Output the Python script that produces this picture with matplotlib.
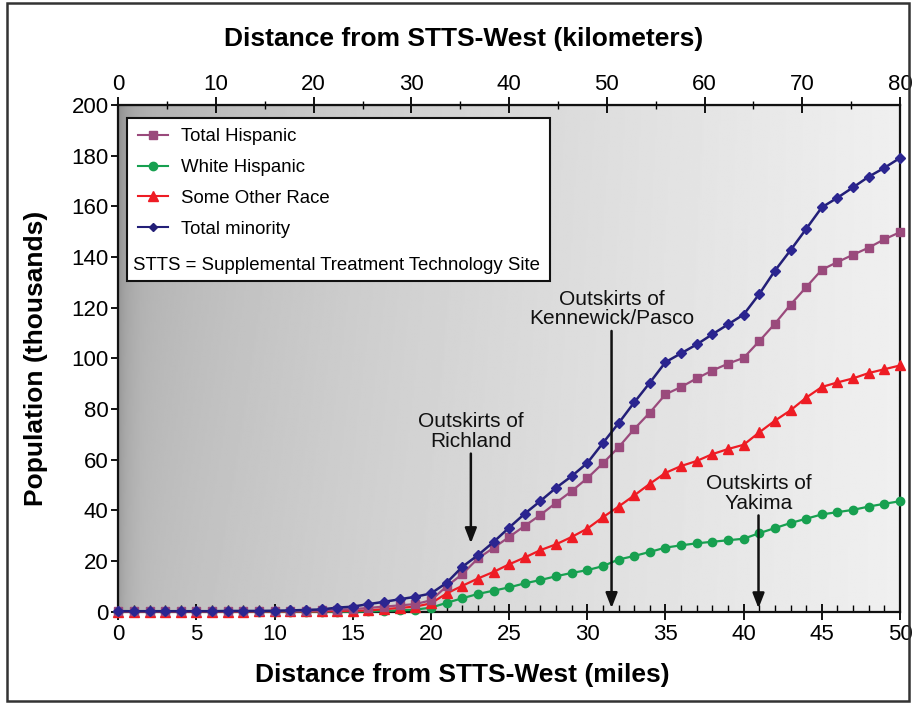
import numpy as np
import matplotlib
matplotlib.use("Agg")
import matplotlib.pyplot as plt
from matplotlib.patches import Rectangle
from matplotlib.lines import Line2D

plt.rcParams['font.family'] = ['Liberation Sans', 'DejaVu Sans']

miles = list(range(0, 51))

total_minority = [0.2, 0.2, 0.2, 0.2, 0.2, 0.2, 0.2, 0.3, 0.3, 0.3, 0.4, 0.5,
                  0.7, 0.9, 1.6, 2.0, 3.0, 3.9, 4.9, 5.9, 7.2, 11.4, 17.7, 22.3,
                  27.5, 33.2, 38.7, 43.7, 48.9, 53.5, 58.7, 66.6, 74.4, 82.6, 90.4,
                  98.5, 102.0, 105.5, 109.5, 113.4, 117.3, 125.4, 134.6, 142.7,
                  151.1, 159.6, 163.4, 167.5, 171.7, 175.2, 179.1]

total_hispanic = [0.1, 0.1, 0.1, 0.1, 0.1, 0.1, 0.1, 0.1, 0.2, 0.2, 0.2, 0.2,
                  0.3, 0.5, 0.8, 1.0, 1.5, 2.0, 2.5, 3.0, 4.5, 10.0, 14.8, 21.0,
                  25.2, 29.5, 33.9, 38.2, 43.0, 47.6, 52.7, 58.6, 64.9, 72.1, 78.6,
                  85.8, 88.7, 92.1, 95.2, 97.9, 100.2, 106.8, 113.7, 121.2, 128.1,
                  135.0, 138.0, 140.9, 143.7, 147.0, 149.8]

some_other_race = [0.0, 0.0, 0.0, 0.0, 0.0, 0.0, 0.0, 0.0, 0.0, 0.1, 0.1, 0.1,
                   0.1, 0.1, 0.2, 0.3, 0.5, 1.0, 1.5, 2.0, 3.3, 7.2, 10.2, 13.1,
                   15.7, 18.7, 21.4, 24.3, 26.6, 29.5, 32.8, 37.3, 41.5, 45.9, 50.5,
                   54.8, 57.5, 59.5, 62.2, 64.2, 65.9, 70.8, 75.4, 79.5, 84.5, 88.7,
                   90.5, 92.1, 94.2, 95.7, 97.2]

white_hispanic = [0.0, 0.0, 0.0, 0.0, 0.0, 0.0, 0.0, 0.0, 0.0, 0.0, 0.0, 0.0,
                  0.0, 0.0, 0.0, 0.0, 0.1, 0.3, 0.5, 0.8, 1.6, 3.5, 5.3, 7.0,
                  8.3, 9.6, 11.2, 12.5, 14.0, 15.3, 16.4, 18.0, 20.6, 22.0, 23.6,
                  25.3, 26.2, 27.0, 27.6, 28.2, 28.8, 31.0, 33.0, 35.0, 36.7, 38.4,
                  39.3, 40.2, 41.5, 42.6, 43.6]

series_labels = ["Total Hispanic", "White Hispanic", "Some Other Race", "Total minority"]
annot_labels = ["Outskirts of\nRichland", "Outskirts of\nKennewick/Pasco", "Outskirts of\nYakima"]
annot_x = [22.55, 31.55, 40.95]
annot_tip = [27, 1.4, 1.3]
annot_tail = [62.4, 110.8, 38.0]

c_hisp = '#9a4a7c'
c_white = '#17a050'
c_other = '#ee1c24'
c_min = '#231f78'

fig = plt.figure(figsize=(9.14, 7.04), dpi=100)
W, H = 914, 704
x0, x1 = 118.3, 900.0
ytop, ybot = 105.0, 611.7
ax = fig.add_axes([x0 / W, 1 - ybot / H, (x1 - x0) / W, (ybot - ytop) / H])

# outer frame
fig.patches.append(Rectangle((7.5 / W, 3 / H), 901.5 / W, 698.5 / H, transform=fig.transFigure,
                             fill=False, edgecolor='#333333', linewidth=1.8))

# gradient background
nx, ny = 400, 200
gx = np.linspace(0, 1, nx)
gy = np.linspace(0, 1, ny)[:, None]
bg = 0.70 + 0.22 * gx[None, :] ** 0.7 + 0.02 * (1 - gy) + 0.02 * gy * gx[None, :]
band = np.exp(-gx / 0.012) * 0.10
bg = bg - 0.04 * gy * np.exp(-gx / 0.15)[None, :]
bg = np.clip(bg - band[None, :], 0, 1)
ax.imshow(bg, cmap='gray', vmin=0, vmax=1, extent=[0, 50, 0, 200], origin='lower',
          aspect='auto', zorder=0, interpolation='bilinear')

ax.plot(miles, white_hispanic, '-o', color=c_white, lw=1.6, ms=6, mfc=c_white,
        mec=c_white, clip_on=False, zorder=3)
ax.plot(miles, some_other_race, '-^', color=c_other, lw=1.6, ms=7, mfc=c_other,
        mec=c_other, clip_on=False, zorder=4)
ax.plot(miles, total_hispanic, '-s', color=c_hisp, lw=1.6, ms=6, mfc=c_hisp,
        mec=c_hisp, clip_on=False, zorder=5)
ax.plot(miles, total_minority, '-D', color=c_min, lw=1.8, ms=5, mfc='#2b2590',
        mec='#2b2590', clip_on=False, zorder=6)

ax.set_xlim(0, 50)
ax.set_ylim(0, 200)
ax.set_xticks(range(0, 51, 5))
ax.set_xticks(range(0, 51, 1), minor=True)
ax.set_yticks(range(0, 201, 20))
ax.tick_params(axis='x', which='major', direction='inout', length=12, width=1.3,
               labelsize=16, pad=3)
ax.tick_params(axis='x', which='minor', direction='in', length=5, width=1.0)
ax.tick_params(axis='y', which='major', direction='out', length=5, width=1.3,
               labelsize=16, pad=2)
for s in ax.spines.values():
    s.set_linewidth(1.6)
    s.set_color('#111111')

sec = ax.secondary_xaxis('top', functions=(lambda m: m * 1.6, lambda k: k / 1.6))
sec.set_xticks(range(0, 81, 10))
sec.set_xticks(range(0, 81, 5), minor=True)
sec.tick_params(which='major', direction='inout', length=12, width=1.3, labelsize=16, pad=1)
sec.tick_params(which='minor', direction='inout', length=6, width=1.0)

fig.text(462 / W, 1 - 675 / H, "Distance from STTS-West (miles)", fontsize=19,
         fontweight='bold', ha='center', va='center')
fig.text(464 / W, 1 - 39 / H, "Distance from STTS-West (kilometers)", fontsize=19,
         fontweight='bold', ha='center', va='center')
fig.text(36 / W, 1 - 358 / H, "Population (thousands)", fontsize=19,
         fontweight='bold', ha='center', va='center', rotation=90)

# legend box
ax.add_patch(Rectangle((0.0111, 0.6527), 0.5412, 0.3213, transform=ax.transAxes,
                       facecolor='white', edgecolor='#111111', lw=1.5, zorder=8))
handles = [
    Line2D([], [], color=c_hisp, marker='s', ms=6, lw=1.5),
    Line2D([], [], color=c_white, marker='o', ms=6, lw=1.5),
    Line2D([], [], color=c_other, marker='^', ms=7, lw=1.5),
    Line2D([], [], color=c_min, marker='D', ms=4.5, lw=1.5),
]
leg = ax.legend(handles, series_labels, loc='upper left', bbox_to_anchor=(0.025, 0.954),
                frameon=False, fontsize=13.4, handlelength=1.6, handletextpad=0.7,
                labelspacing=0.74, borderaxespad=0, borderpad=0)
leg.set_zorder(9)
ax.text(0.019, 0.684, "STTS = Supplemental Treatment Technology Site", transform=ax.transAxes,
        fontsize=13.4, va='center', ha='left', zorder=9)

for lab, xa, tip, tail in zip(annot_labels, annot_x, annot_tip, annot_tail):
    ax.annotate("", xy=(xa, tip), xytext=(xa, tail),
                arrowprops=dict(arrowstyle='-|>,head_length=0.9,head_width=0.35',
                                color='#111111', lw=1.8, shrinkA=0, shrinkB=0),
                zorder=7)
    ax.text(xa, tail + 1, lab, ha='center', va='bottom', fontsize=15,
            linespacing=1.05, color='#111111', zorder=7)

fig.savefig("out.png", dpi=100)
